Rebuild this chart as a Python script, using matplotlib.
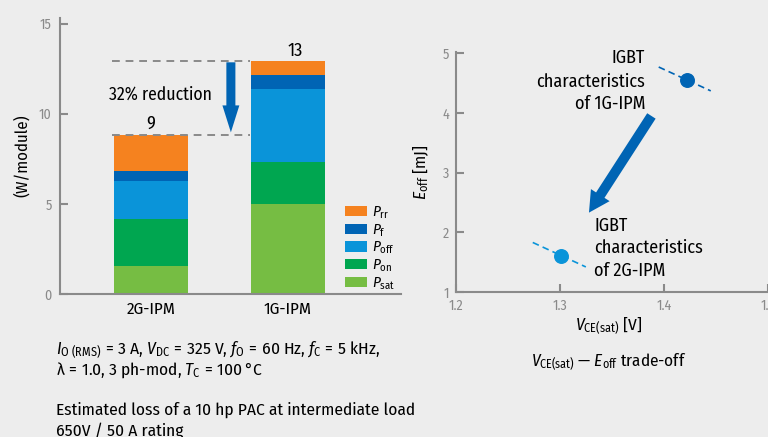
import numpy as np
import matplotlib
matplotlib.use("Agg")
import matplotlib.pyplot as plt

FONT = "Fira Sans Condensed"
plt.rcParams["font.family"] = [FONT, "DejaVu Sans"]
plt.rcParams["mathtext.fontset"] = "custom"
plt.rcParams["mathtext.rm"] = FONT
plt.rcParams["mathtext.it"] = FONT + ":italic"

# loss breakdown (W/module)
modules = ["2G-IPM", "1G-IPM"]
loss_names = ["sat", "on", "off", "f", "rr"]
p_sat = [1.57, 5.02]
p_on = [2.61, 2.33]
p_off = [2.11, 4.00]
p_f = [0.56, 0.78]
p_rr = [2.00, 0.77]
reduction = "32% reduction"

# Vce(sat) - Eoff trade-off points
vce = [1.301, 1.422]
eoff = [1.60, 4.55]
trend_2g_x = [1.274, 1.325]
trend_2g_y = [1.83, 1.42]
trend_1g_x = [1.395, 1.445]
trend_1g_y = [4.77, 4.37]
label_1g = ["IGBT", "characteristics", "of 1G-IPM"]
label_2g = ["IGBT", "characteristics", "of 2G-IPM"]

BG = "#ededed"
GRAY = "#8a8a8a"
DARK = "#0064b4"
LIGHT = "#0a94d9"
colors = {"sat": "#76bd43", "on": "#00a650", "off": LIGHT,
          "f": DARK, "rr": "#f5821f"}

fig = plt.figure(figsize=(7.68, 4.37), dpi=100, facecolor=BG)

# ---- stacked bars ----
ax = fig.add_axes([0.078, 0.3266, 0.444, 0.632])
ax.set_facecolor(BG)
x = np.arange(len(modules))
w = 0.54
stack = [p_sat, p_on, p_off, p_f, p_rr]
bottom = np.zeros(len(modules))
handles = []
for name, vals in zip(loss_names, stack):
    b = ax.bar(x, vals, w, bottom=bottom, color=colors[name], label=r"$P_{\rm %s}$" % name)
    handles.append(b)
    bottom += np.array(vals)
totals = bottom

ax.set_xlim(-0.664, 1.825)
ax.set_ylim(0, 15.3)
ax.set_yticks([0, 5, 10, 15])
ax.set_xticks(x)
ax.set_xticklabels(modules, fontsize=12.2)
for s in ["top", "right"]:
    ax.spines[s].set_visible(False)
for s in ["left", "bottom"]:
    ax.spines[s].set_color(GRAY)
    ax.spines[s].set_linewidth(1.5)
ax.tick_params(axis="y", direction="in", length=6, width=1.5, color=GRAY,
               labelcolor=GRAY, labelsize=10, pad=6)
ax.tick_params(axis="x", length=0, pad=5)
ax.set_ylabel("(W/module)", fontsize=12, labelpad=6)

for xi, t in zip(x, totals):
    ax.text(xi + (0.05 if xi else 0), t + 0.3, f"{t:.0f}", ha="center", va="baseline", fontsize=13)

for t in totals:
    ax.plot([-0.285, 0.723], [t, t], color=GRAY, lw=1.4, ls=(0, (4, 3)))

ax.annotate("", xy=(0.584, totals[0] + 0.12), xytext=(0.584, totals[1] - 0.05),
            arrowprops=dict(arrowstyle="simple,head_width=12.2,head_length=19.4,tail_width=6.5",
                            mutation_scale=1, color=DARK, shrinkA=0, shrinkB=0, lw=0))
ax.text(0.073, 10.76, reduction, ha="center", va="baseline", fontsize=12.7)

leg = ax.legend(handles[::-1], [h.get_label() for h in handles[::-1]],
                loc="lower left", bbox_to_anchor=(0.835, 0.01), frameon=False,
                borderaxespad=0, borderpad=0,
                fontsize=11, handlelength=1.45, handleheight=0.66,
                labelspacing=0.08, handletextpad=0.35)

eq = r"$\,=\,$"
fig.text(0.073, 0.188,
         r"$I_{\rm O\ (RMS)}$" + eq + "3 A, " + r"$V_{\rm DC}$" + eq + "325 V, "
         + r"$f_{\rm O}$" + eq + "60 Hz, " + r"$f_{\rm C}$" + eq + "5 kHz,",
         fontsize=12.5, va="baseline")
fig.text(0.073, 0.142, "λ" + eq + "1.0, 3 ph-mod, " + r"$T_{\rm C}$" + eq + r"100$\,$°C",
         fontsize=12.5, va="baseline")
fig.text(0.073, 0.050, "Estimated loss of a 10 hp PAC at intermediate load", fontsize=12.5, va="baseline")
fig.text(0.073, 0.002, "650V / 50 A rating", fontsize=12.5, va="baseline")

# ---- trade-off scatter ----
ax2 = fig.add_axes([0.5934, 0.3318, 0.4066, 0.549])
ax2.set_facecolor(BG)
ax2.set_xlim(1.2, 1.5)
ax2.set_ylim(1, 5.02)
ax2.set_xticks([1.2, 1.3, 1.4, 1.5])
ax2.set_yticks([1, 2, 3, 4, 5])
for s in ["top", "right"]:
    ax2.spines[s].set_visible(False)
for s in ["left", "bottom"]:
    ax2.spines[s].set_color(GRAY)
    ax2.spines[s].set_linewidth(1.5)
ax2.tick_params(direction="in", length=6, width=1.5, color=GRAY,
                labelcolor=GRAY, labelsize=10, pad=5)

ax2.plot(trend_2g_x, trend_2g_y, color=LIGHT, lw=1.2, ls=(0, (4, 2.5)))
ax2.plot(trend_1g_x, trend_1g_y, color=DARK, lw=1.2, ls=(0, (4, 2.5)))
ax2.scatter([vce[0]], [eoff[0]], s=95, color=LIGHT, zorder=3)
ax2.scatter([vce[1]], [eoff[1]], s=95, color=DARK, zorder=3)

for line, y in zip(label_1g, [4.843, 4.443, 4.067]):
    ax2.text(1.382, y, line, ha="right", va="baseline", fontsize=13)
for line, y in zip(label_2g, [2.027, 1.65, 1.272]):
    ax2.text(1.333, y, line, ha="left", va="baseline", fontsize=13)
ax2.annotate("", xy=(1.328, 2.33), xytext=(1.388, 3.95),
             arrowprops=dict(arrowstyle="simple,head_width=16,head_length=15,tail_width=7.2",
                             mutation_scale=1, color=DARK, shrinkA=0, shrinkB=0, lw=0))

ax2.set_ylabel(r"$E_{\rm off}$ [mJ]", fontsize=12.5, labelpad=8)
fig.text(0.793, 0.245, r"$V_{\rm CE(sat)}$ [V]", ha="center", va="baseline", fontsize=12.5)
fig.text(0.793, 0.161, r"$V_{\rm CE(sat)}$ — $E_{\rm off}$ trade-off", ha="center",
         va="baseline", fontsize=12.3)

fig.savefig("out.png", dpi=100, facecolor=BG)
